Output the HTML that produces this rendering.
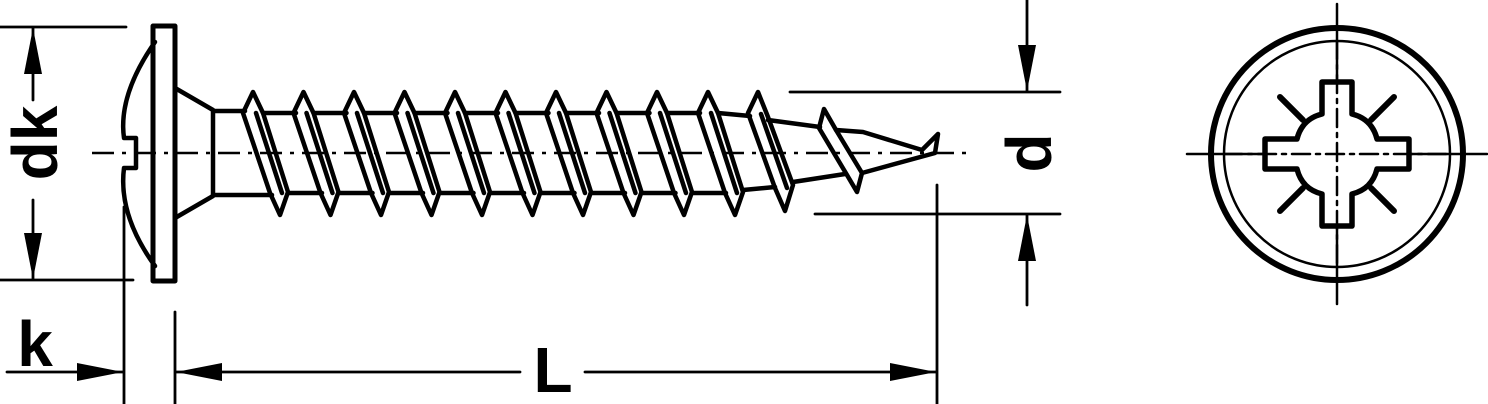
<!DOCTYPE html>
<html><head><style>html,body{margin:0;padding:0;background:#fff}svg{display:block}</style></head><body>
<svg width="1488" height="404" viewBox="0 0 1488 404" xmlns="http://www.w3.org/2000/svg">
<defs>
<marker id="a" viewBox="0 0 46 18" refX="46" refY="9" markerWidth="46" markerHeight="18" markerUnits="userSpaceOnUse" orient="auto"><path d="M0,0 L46,9 L0,18 Z" fill="#000"/></marker>
</defs>
<g stroke="#000" fill="none" stroke-linecap="round" stroke-linejoin="round">
<path d="M92,153 H970" stroke-width="2.5" stroke-dasharray="22,8,4,8" stroke-linecap="butt"/>
<rect x="153" y="26" width="22" height="255" stroke-width="5"/>
<path d="M155,42 Q118,95 124,138 H136 V168 H124 Q118,215 155,266" stroke-width="4.5"/>
<path d="M175,88 L213,110 M175,218 L213,196 M213,112 V195" stroke-width="4.5"/>
<path d="M213,111 H245 M213,195 H272" stroke-width="4.5"/>
<g id="th" stroke-width="4.5">
<path d="M243,113 L253,92 L263,113 L288,192 L280,215 L270,193 Z"/>
<path d="M256,113 L282,193"/>
<path d="M263,113 H296 M288,193 H322"/>
</g>
<use href="#th" x="50.5"/><use href="#th" x="101"/><use href="#th" x="151.5"/><use href="#th" x="202"/><use href="#th" x="252.5"/><use href="#th" x="303"/><use href="#th" x="353.5"/><use href="#th" x="404"/>
<g stroke-width="4.5">
<path d="M698,113 L708,92 L718,113 L743,192 L735,215 L725,193 Z"/>
<path d="M711,113 L737,193"/>
<path d="M748,113 L758,92 L768,117 L793,185 L785,211 L775,188 Z"/>
<path d="M761,114 L787,188"/>
<path d="M718,113 L750,116 M743,190 L775,187"/>
<path d="M768,120 L820,127 M793,182 L845,174"/>
<path d="M819,128 L824,109 L836,130 L862,173 L857,192 L847,175 Z"/>
<path d="M836,130 L863,132 L922,150 M862,173 L935,153 L938,134 L922,150"/>
</g>
<g stroke-width="2.8">
<path d="M0,27 H126 M0,280 H133"/>
<path d="M33,100 V28" marker-end="url(#a)"/>
<path d="M33,200 V279" marker-end="url(#a)"/>
<path d="M124,207 V404 M175,312 V404 M937,185 V404"/>
<path d="M7,372 H123" marker-end="url(#a)"/>
<path d="M520,372 H176" marker-end="url(#a)"/>
<path d="M585,372 H936" marker-end="url(#a)"/>
<path d="M790,92 H1060 M815,214 H1060"/>
<path d="M1027,0 V91" marker-end="url(#a)"/>
<path d="M1027,305 V215" marker-end="url(#a)"/>
</g>
<g transform="translate(1337,154)">
<path d="M-150,0 H150 M0,-150 V150" stroke-width="2.5"/>
<circle r="126" stroke-width="6"/>
<circle r="113" stroke-width="2.5"/>
<path d="M-15,-72 H15 V-40 Q35,-35 40,-15 H72 V15 H40 Q35,35 15,40 V72 H-15 V40 Q-35,35 -40,15 H-72 V-15 H-40 Q-35,-35 -15,-40 Z" stroke-width="5.5" fill="#fff"/>
<path d="M-113,0 H113 M0,-113 V113" stroke-width="2.5" stroke-dasharray="18,6,4,6"/>
<path d="M-34,-34 L-57,-57 M34,-34 L57,-57 M-34,34 L-57,57 M34,34 L57,57" stroke-width="6"/>
</g>
</g>
<g font-family="Liberation Sans, sans-serif" font-weight="bold" fill="#000">
<text x="0" y="0" font-size="64" text-anchor="middle" transform="translate(57,143) rotate(-90)">dk</text>
<text x="35" y="366" font-size="64" text-anchor="middle">k</text>
<text x="553" y="392" font-size="64" text-anchor="middle">L</text>
<text x="0" y="0" font-size="64" text-anchor="middle" transform="translate(1051,153) rotate(-90)">d</text>
</g>
</svg>
</body></html>
